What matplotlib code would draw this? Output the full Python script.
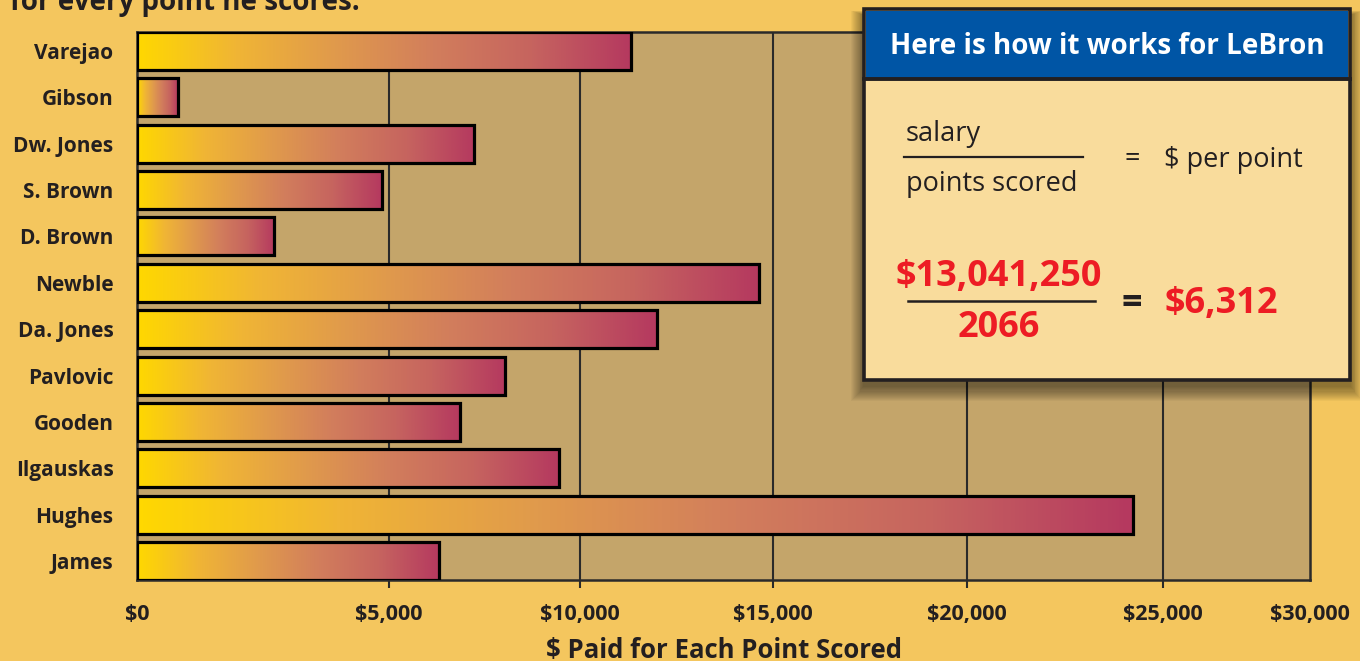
import numpy as np
import matplotlib
matplotlib.use('Agg')
import matplotlib.pyplot as plt
from matplotlib.colors import LinearSegmentedColormap
from matplotlib.patches import Rectangle
from matplotlib.lines import Line2D

# ---------------- data ----------------
players = ["Varejao", "Gibson", "Dw. Jones", "S. Brown", "D. Brown", "Newble",
           "Da. Jones", "Pavlovic", "Gooden", "Ilgauskas", "Hughes", "James"]
dollars_per_point = [11320, 810, 7230, 4860, 2720, 14640,
                     11990, 8040, 6860, 9450, 24230, 6312]
tick_values = [0, 5000, 10000, 15000, 20000, 25000, 30000]
tick_labels = ["$0", "$5,000", "$10,000", "$15,000", "$20,000", "$25,000", "$30,000"]
lebron_salary = "$13,041,250"
lebron_points = "2066"
lebron_result = "$6,312"

# ---------------- style ----------------
plt.rcParams['font.family'] = ['Open Sans', 'DejaVu Sans']
W, H = 1360, 661
INK = '#231F20'
RED = '#ED1C24'

fig = plt.figure(figsize=(W / 100, H / 100), dpi=100)
fig.patch.set_facecolor('#F4C65E')

L, R, T, B = 137, 1310, 32, 580
ax = fig.add_axes([L / W, (H - B) / H, (R - L) / W, (B - T) / H])
ax.set_facecolor('#C4A56A')

# the printed axis is unevenly spaced: fraction of width at each labelled tick
tick_frac = (np.array([137, 389, 580, 773, 967, 1163, 1310]) - 137) / (1310 - 137)
fwd = lambda v: np.interp(v, tick_values, tick_frac)
inv = lambda f: np.interp(f, tick_frac, tick_values)
ax.set_xscale('function', functions=(fwd, inv))
ax.set_xlim(0, 30000)

n = len(players)
y = np.arange(n)
h = 0.82
ax.set_ylim(n - 1 + h / 2, -h / 2)

# ticks / grid
ax.xaxis.remove_overlapping_locs = False
ax.set_xticks(tick_values)
ax.set_xticklabels(tick_labels, fontsize=15.5, fontweight='bold', color=INK)
ax.set_xticks(tick_values[1:-1], minor=True)
ax.tick_params(axis='x', which='major', length=0, pad=17)
ax.tick_params(axis='x', which='minor', length=6, width=1.5, color='#2A2A2A', direction='out')
ax.grid(True, which='minor', axis='x', color='#2A2A2A', linewidth=1.5)
ax.set_axisbelow(True)

ax.set_yticks(y)
ax.set_yticklabels(players, fontsize=15, fontweight='bold', color=INK)
ax.tick_params(axis='y', length=0, pad=17)

for s in ax.spines.values():
    s.set_color('#2A2A2A')
    s.set_linewidth(1.8)

ax.set_xlabel("$ Paid for Each Point Scored", fontsize=18.5, fontweight='bold',
              color=INK, labelpad=9)

# bars with gradient fill
cmap = LinearSegmentedColormap.from_list(
    'bar', ['#FFD800', '#F0B535', '#E09A4C', '#D27E5C', '#C6645F', '#B5395F'])
bars = ax.barh(y, dollars_per_point, height=h, left=0, facecolor='none',
               edgecolor='black', linewidth=2.3, zorder=3)
grad = np.linspace(0, 1, 256).reshape(1, -1)
to_axes = ax.transAxes.inverted()
for b in bars:
    x0, y0 = b.get_x(), b.get_y()
    x1, y1 = x0 + b.get_width(), y0 + b.get_height()
    p0 = to_axes.transform(ax.transData.transform((x0, y0)))
    p1 = to_axes.transform(ax.transData.transform((x1, y1)))
    im = ax.imshow(grad, cmap=cmap, aspect='auto',
                   extent=[p0[0], p1[0], min(p0[1], p1[1]), max(p0[1], p1[1])],
                   transform=ax.transAxes, zorder=2, interpolation='bilinear')
    im.set_clip_path(b)
ax.set_xlim(0, 30000)
ax.set_ylim(n - 1 + h / 2, -h / 2)

# title fragment at top (cut off in the reference)
fig.text(10 / W, 1 - 10 / H, "for every point he scores.", fontsize=20,
         fontweight='bold', color=INK, va='baseline', ha='left')

# ---------------- inset explanation box ----------------
ov = fig.add_axes([0, 0, 1, 1], zorder=5)
ov.set_xlim(0, W)
ov.set_ylim(H, 0)
ov.axis('off')
ov.patch.set_alpha(0)

bx, by, bw, bh = 864, 9, 486, 371
for i in range(14, 0, -1):
    ov.add_patch(Rectangle((bx - i * 0.9, by + 6 - i * 0.3), bw + i * 1.8, bh + i * 1.4,
                           facecolor='black', edgecolor='none', alpha=0.035))
ov.add_patch(Rectangle((bx, by), bw, bh, facecolor='#F9DC9C', edgecolor=INK, linewidth=2.6))
ov.add_patch(Rectangle((bx + 2, by + 2), bw - 4, 68, facecolor='#0055A5', edgecolor='none'))
ov.add_line(Line2D([bx, bx + bw], [79, 79], color=INK, linewidth=2.8))
ov.text(1107, 46, "Here is how it works for LeBron", color='white', fontsize=20,
        fontweight='bold', ha='center', va='center')

ov.text(906, 134, "salary", fontsize=19.5, color=INK, ha='left', va='center')
ov.add_line(Line2D([904, 1083], [157, 157], color=INK, linewidth=1.6))
ov.text(906, 184, "points scored", fontsize=19.5, color=INK, ha='left', va='center')
ov.text(1132, 159, "=", fontsize=19.5, color=INK, ha='center', va='center')
ov.text(1164, 160, "$ per point", fontsize=19.5, color=INK, ha='left', va='center')

ov.text(999, 277, lebron_salary, fontsize=26, color=RED, fontweight='bold',
        ha='center', va='center')
ov.add_line(Line2D([908, 1095], [301, 301], color=INK, linewidth=1.8))
ov.text(999, 328, lebron_points, fontsize=26, color=RED, fontweight='bold',
        ha='center', va='center')
ov.text(1132, 304, "=", fontsize=26, color=INK, fontweight='bold', ha='center', va='center')
ov.text(1164, 304, lebron_result, fontsize=26, color=RED, fontweight='bold',
        ha='left', va='center')

fig.savefig('out.png', dpi=100, facecolor=fig.get_facecolor())
